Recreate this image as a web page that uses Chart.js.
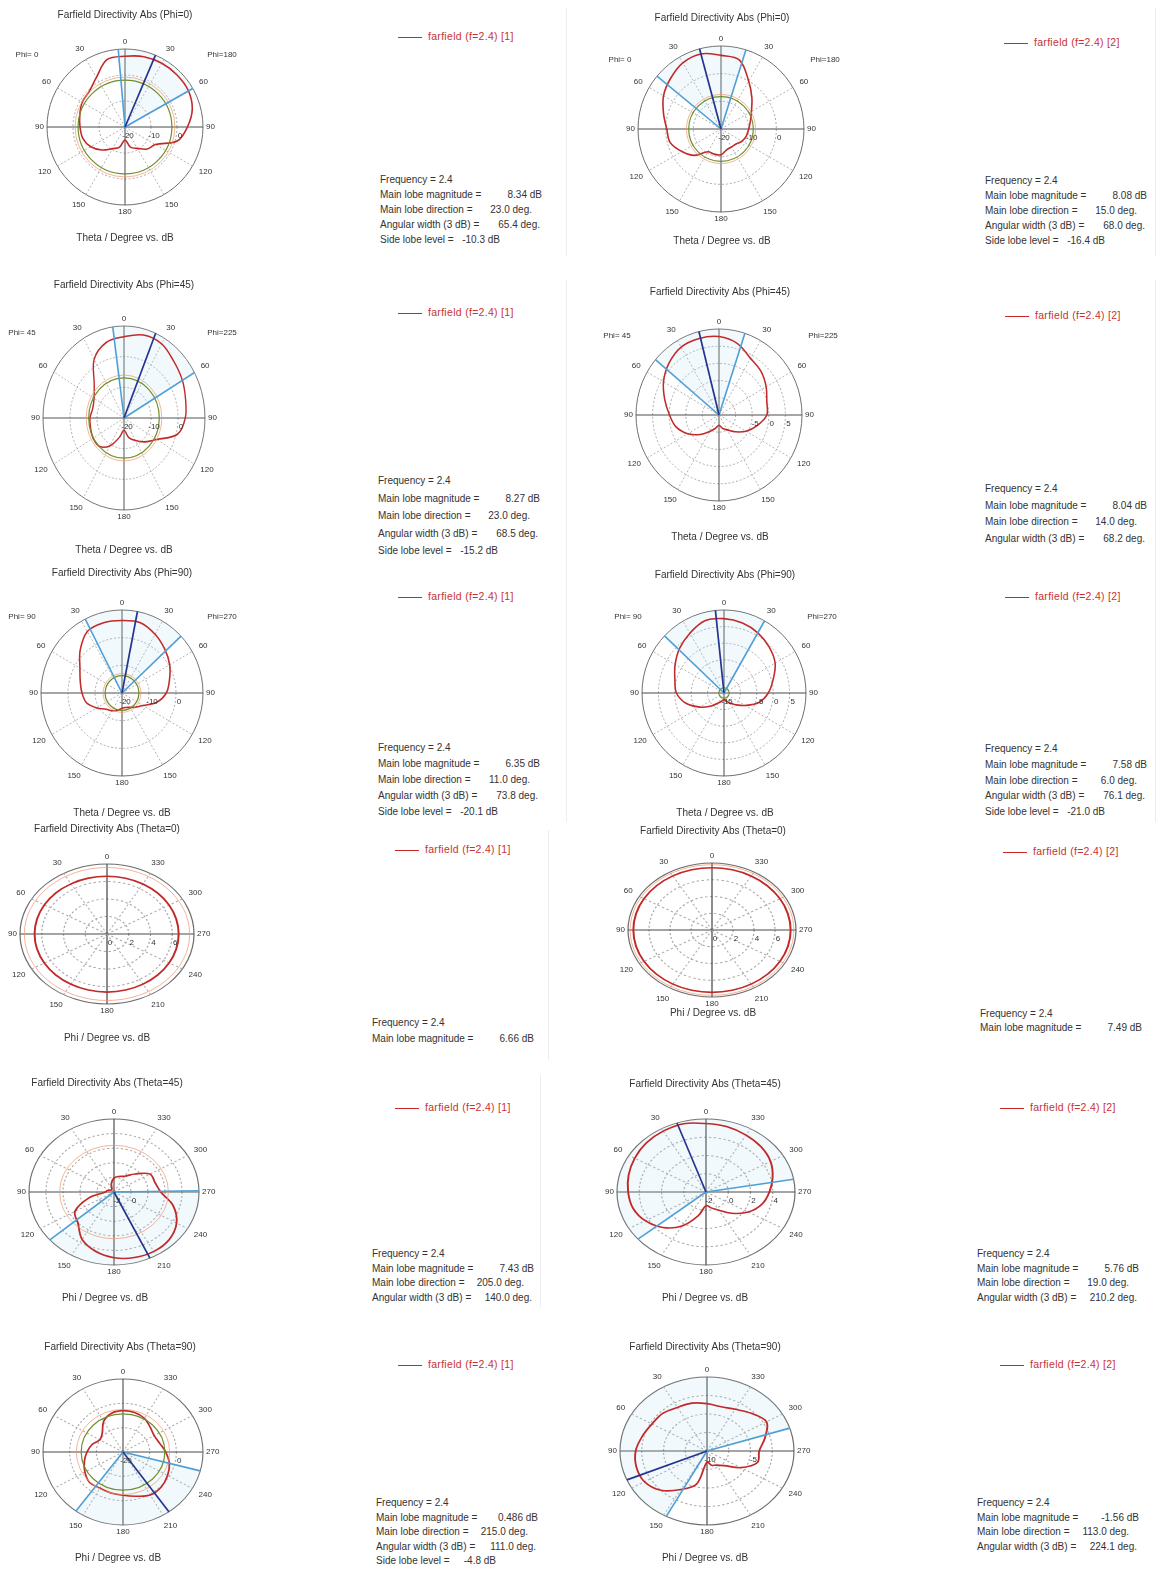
<!DOCTYPE html>
<html>
<head>
<meta charset="utf-8">
<script src="https://cdn.jsdelivr.net/npm/chart.js@4.4.1/dist/chart.umd.min.js"></script>
<style>
  html, body { margin: 0; padding: 0; background: #fff; }
  body { width: 1159px; height: 1572px; position: relative; overflow: hidden;
         font-family: "Liberation Sans", Arial, sans-serif; }
  canvas.plot { position: absolute; }
  .legend { position: absolute; font-size: 10.5px; letter-spacing: 0.3px; color: #c83232; white-space: nowrap; line-height: 12px; }
  .legend i { display: inline-block; width: 24px; border-top: 1.4px solid #c62828; vertical-align: middle; margin-right: 6px; }
  .info { position: absolute; font-size: 10px; color: #333; white-space: pre; }
  .info span { position: absolute; top: 0; white-space: pre; }
  .sep { position: absolute; width: 1px; background: #ededed; }
</style>
</head>
<body>
<script>
// ---- sampled directivity cuts, dB, 15 degree steps ----
const cutAngles = [0, 15, 30, 45, 60, 75, 90, 105, 120, 135, 150, 165,
                   180, 195, 210, 225, 240, 255, 270, 285, 300, 315, 330, 345];

// Phi cuts: theta read clockwise from the top (right half 0..180, left half back to 360)
const phi0Ant1   = [7.2, 8.0, 8.3, 8.3, 8.1, 6.8, 4.0, 0.8, -6.5, -8.0, -10.5, -12.0,
                    -15.0, -12.0, -10.4, -7.5, -4.8, -3.2, -2.7, -2.0, -1.0, -0.6, 2.0, 6.8];
const phi0Ant2   = [6.6, 5.8, 0.0, -4.2, -7.3, -9.0, -10.0, -10.5, -11.2, -12.3, -12.5, -12.2,
                    -10.7, -10.6, -10.5, -6.5, -3.7, -1.0, -0.4, 1.5, 4.0, 5.8, 7.6, 8.08];
const phi45Ant1  = [6.5, 8.0, 7.9, 6.1, 4.9, 3.6, 2.7, 0.5, -6.0, -9.0, -11.5, -13.5,
                    -16.0, -13.5, -9.5, -7.0, -6.8, -7.2, -7.4, -8.0, -7.2, -4.4, 2.1, 5.5];
const phi45Ant2  = [7.8, 6.5, 4.0, 2.9, 1.4, -0.1, -0.6, -3.1, -5.6, -8.1, -10.0, -11.0,
                    -12.0, -11.0, -9.5, -7.0, -4.1, -1.6, -0.1, 1.9, 4.3, 6.3, 7.8, 8.04];
const phi90Ant1  = [6.2, 6.3, 4.5, 2.4, 0.4, -1.8, -3.6, -6.8, -11.0, -12.8, -14.0, -14.6,
                    -14.5, -13.5, -12.6, -11.7, -9.2, -6.4, -5.2, -4.0, -2.0, 1.9, 5.7, 6.3];
const phi90Ant2  = [7.4, 6.8, 5.8, 4.5, 3.0, 0.5, -1.5, -4.0, -7.5, -10.0, -11.5, -12.5,
                    -13.0, -12.5, -11.5, -9.5, -6.5, -3.0, -0.5, 0.5, 2.2, 4.1, 5.8, 7.5];
// Theta cuts: indexed by phi (counter-clockwise on the plot)
const theta0Ant1  = [6.60, 6.61, 6.62, 6.64, 6.65, 6.66, 6.66, 6.66, 6.65, 6.64, 6.63, 6.63,
                     6.64, 6.63, 6.62, 6.61, 6.60, 6.59, 6.59, 6.59, 6.60, 6.60, 6.60, 6.60];
const theta0Ant2  = [7.44, 7.45, 7.46, 7.47, 7.48, 7.49, 7.49, 7.49, 7.48, 7.47, 7.46, 7.45,
                     7.45, 7.45, 7.46, 7.47, 7.48, 7.49, 7.49, 7.48, 7.47, 7.46, 7.45, 7.44];
const theta45Ant1 = [-0.1, -0.8, -1.5, -1.6, -1.5, -1.2, -1.0, 1.0, 3.3, 4.0, 5.5, 6.4,
                     7.0, 7.3, 7.4, 7.2, 6.5, 5.2, 3.5, 3.0, 2.9, 1.5, 0.5, 0.2];
const theta45Ant2 = [5.5, 5.75, 5.7, 5.6, 5.4, 5.2, 5.0, 4.8, 4.3, 3.5, 2.3, 0.7,
                     -0.5, -0.2, 0.3, 1.3, 2.4, 3.2, 3.7, 4.2, 4.7, 5.0, 5.2, 5.4];
const theta90Ant1 = [-3.0, -3.5, -5.5, -9.0, -10.0, -8.0, -6.5, -5.0, -3.5, -2.3, -2.8, -2.6,
                     -2.2, -1.2, 0.4, 0.3, -0.7, -2.0, -4.0, -5.8, -6.5, -5.6, -4.0, -3.2];
const theta90Ant2 = [-3.6, -3.3, -3.2, -2.8, -2.7, -2.3, -1.8, -1.6, -1.7, -2.5, -4.0, -5.4,
                     -8.5, -8.0, -7.8, -7.2, -5.5, -4.0, -4.0, -3.1, -2.1, -2.8, -3.5, -3.8];

const cutSeries = [phi0Ant1, phi0Ant2, phi45Ant1, phi45Ant2, phi90Ant1, phi90Ant2,
                   theta0Ant1, theta0Ant2, theta45Ant1, theta45Ant2, theta90Ant1, theta90Ant2];
const cutKind   = ['phi', 'phi', 'phi', 'phi', 'phi', 'phi',
                   'theta', 'theta', 'theta', 'theta', 'theta', 'theta'];
const plotTitles = ['Farfield Directivity Abs (Phi=0)', 'Farfield Directivity Abs (Phi=0)',
                    'Farfield Directivity Abs (Phi=45)', 'Farfield Directivity Abs (Phi=45)',
                    'Farfield Directivity Abs (Phi=90)', 'Farfield Directivity Abs (Phi=90)',
                    'Farfield Directivity Abs (Theta=0)', 'Farfield Directivity Abs (Theta=0)',
                    'Farfield Directivity Abs (Theta=45)', 'Farfield Directivity Abs (Theta=45)',
                    'Farfield Directivity Abs (Theta=90)', 'Farfield Directivity Abs (Theta=90)'];
const halfLabels = [['Phi= 0', 'Phi=180'], ['Phi= 0', 'Phi=180'],
                    ['Phi= 45', 'Phi=225'], ['Phi= 45', 'Phi=225'],
                    ['Phi= 90', 'Phi=270'], ['Phi= 90', 'Phi=270'],
                    null, null, null, null, null, null];
const antennaNo = [1, 2, 1, 2, 1, 2, 1, 2, 1, 2, 1, 2];
const frequency = 2.4;

// ---- farfield summary values ----
const mainMagnitude = [8.34, 8.08, 8.27, 8.04, 6.35, 7.58, 6.66, 7.49, 7.43, 5.76, 0.486, -1.56];
const mainDirection = [23.0, 15.0, 23.0, 14.0, 11.0, 6.0, null, null, 205.0, 19.0, 215.0, 113.0];
const mainHalf      = [1, -1, 1, -1, 1, -1, 0, 0, 0, 0, 0, 0];   // which half of a phi cut
const angularWidth  = [65.4, 68.0, 68.5, 68.2, 73.8, 76.1, null, null, 140.0, 210.2, 111.0, 224.1];
const widthStart    = [-5.0, -50.5, -8.0, -50.0, -27.0, -46.5, null, null, 131.0, -80.0, 144.0, -72.0];
const sideLobeLevel = [-10.3, -16.4, -15.2, null, -20.1, -21.0, null, null, null, null, -4.8, null];
// secondary reference ring (dB)
const refRingLevel  = [-0.8, -7.5, -6.0, null, -13.0, null, 7.6, 7.8, 4.4, null, -2.5, null];

// ---- dB axis of every plot ----
const axisMin  = [-20, -20, -20, -15, -20, -15, 0, 0, -2, -2, -20, -10];
const axisMax  = [10, 10, 10, 10, 10, 10, 8, 8, 8, 6, 10, 0];
const axisStep = [10, 10, 10, 5, 10, 5, 2, 2, 2, 2, 10, 2.5];
const axisTickLabels = [[-20, -10, 0], [-20, -10, 0], [-20, -10, 0], [-5, 0, 5],
                        [-20, -10, 0], [-15, -5, 0, 5], [0, 2, 4, 6], [0, 2, 4, 6],
                        [-2, 0], [-2, 0, 2, 4], [-20, 0], [-10, -5]];

// ---- page placement of each plot block ----
const layout = [
  {cx: 125, cy: 127, rx: 78, ry: 78, title: [125, 15], sub: [125, 238], sides: [[27, 55], [222, 55]], legend: [398, 36], info: [380, 180, 15]},
  {cx: 721, cy: 129, rx: 83, ry: 83, title: [722, 18], sub: [722, 241], sides: [[620, 60], [825, 60]], legend: [1004, 42], info: [985, 181, 15]},
  {cx: 124, cy: 418, rx: 81, ry: 92, title: [124, 285], sub: [124, 550], sides: [[22, 333], [222, 333]], legend: [398, 312], info: [378, 481, 17.5]},
  {cx: 719, cy: 415, rx: 83, ry: 86, title: [720, 292], sub: [720, 537], sides: [[617, 336], [823, 336]], legend: [1005, 315], info: [985, 489, 16.7]},
  {cx: 122, cy: 693, rx: 81, ry: 83, title: [122, 573], sub: [122, 813], sides: [[22, 617], [222, 617]], legend: [398, 596], info: [378, 748, 16]},
  {cx: 724, cy: 693, rx: 82, ry: 83, title: [725, 575], sub: [725, 813], sides: [[628, 617], [822, 617]], legend: [1005, 596], info: [985, 749, 15.8]},
  {cx: 107, cy: 934, rx: 87, ry: 70, title: [107, 829], sub: [107, 1038], legend: [395, 849], info: [372, 1023, 16]},
  {cx: 712, cy: 930, rx: 84, ry: 67, title: [713, 831], sub: [713, 1013], legend: [1003, 851], info: [980, 1014, 14]},
  {cx: 114, cy: 1192, rx: 85, ry: 73, title: [107, 1083], sub: [105, 1298], legend: [395, 1107], info: [372, 1254, 14.7]},
  {cx: 706, cy: 1192, rx: 89, ry: 73, title: [705, 1084], sub: [705, 1298], legend: [1000, 1107], info: [977, 1254, 14.7]},
  {cx: 123, cy: 1452, rx: 80, ry: 73, title: [120, 1347], sub: [118, 1558], legend: [398, 1364], info: [376, 1503, 14.5]},
  {cx: 707, cy: 1451, rx: 87, ry: 74, title: [705, 1347], sub: [705, 1558], legend: [1000, 1364], info: [977, 1503, 14.7]}
];

const CW = 260, CH = 290, OX = 130, OY = 140;
const FONT = '"Liberation Sans", Arial, sans-serif';
const rad = d => d * Math.PI / 180;

function mainScreenAngle(i) {
  if (mainDirection[i] === null) return null;
  return cutKind[i] === 'phi' ? mainHalf[i] * mainDirection[i] : -mainDirection[i];
}

function beamSector(i) {
  if (angularWidth[i] === null) return null;
  const a = widthStart[i], b = widthStart[i] + angularWidth[i];
  return cutKind[i] === 'phi' ? [a, b] : [-b, -a];
}

function angleText(i, a) {
  if (cutKind[i] === 'phi') return String(a <= 180 ? a : 360 - a);
  return String((360 - a) % 360);
}

function makeDecor(i) {
  const L = layout[i];
  const sx = L.rx / L.ry;
  return {
    id: 'polarDecor' + i,
    beforeDraw(chart) {
      const s = chart.scales.r, ctx = chart.ctx;
      ctx.save();
      ctx.translate(s.xCenter, s.yCenter);
      ctx.scale(sx, 1);
      ctx.translate(-s.xCenter, -s.yCenter);
    },
    beforeDatasetsDraw(chart) {
      const sec = beamSector(i);
      if (!sec) return;
      const s = chart.scales.r, ctx = chart.ctx;
      ctx.save();
      ctx.beginPath();
      ctx.moveTo(s.xCenter, s.yCenter);
      ctx.arc(s.xCenter, s.yCenter, s.drawingArea, rad(sec[0] - 90), rad(sec[1] - 90));
      ctx.closePath();
      ctx.fillStyle = 'rgba(175,215,238,0.16)';
      ctx.fill();
      ctx.restore();
    },
    afterDatasetsDraw(chart) {
      const s = chart.scales.r, ctx = chart.ctx;
      ctx.restore();
      const xc = s.xCenter, yc = s.yCenter;
      const ring = (v, color, w) => {
        const r = s.getDistanceFromCenterForValue(v);
        ctx.beginPath();
        ctx.ellipse(xc, yc, r * sx, r, 0, 0, Math.PI * 2);
        ctx.strokeStyle = color; ctx.lineWidth = w; ctx.stroke();
      };
      const spoke = (a, color, w) => {
        const p = s.getPointPosition(a / 15, s.drawingArea);
        ctx.beginPath();
        ctx.moveTo(xc, yc);
        ctx.lineTo(xc + (p.x - xc) * sx, p.y);
        ctx.strokeStyle = color; ctx.lineWidth = w; ctx.stroke();
      };
      ctx.save();
      if (refRingLevel[i] !== null) ring(refRingLevel[i], 'rgba(238,150,110,0.7)', 1);
      if (sideLobeLevel[i] !== null) ring(mainMagnitude[i] + sideLobeLevel[i], '#6f8f2a', 1.2);
      const sec = beamSector(i);
      if (sec) { spoke(sec[0], '#4f9fd6', 1.6); spoke(sec[1], '#4f9fd6', 1.6); }
      const m = mainScreenAngle(i);
      if (m !== null) spoke(m, '#24358f', 1.7);
      ctx.restore();
    },
    afterDraw(chart) {
      const s = chart.scales.r, ctx = chart.ctx;
      const xc = s.xCenter, yc = s.yCenter;
      const R = s.drawingArea;
      const ox = L.cx - OX, oy = L.cy - OY;
      ctx.save();
      ctx.fillStyle = '#333';
      ctx.textAlign = 'center';
      ctx.textBaseline = 'middle';
      ctx.font = '10px ' + FONT;
      ctx.fillText(plotTitles[i], L.title[0] - ox, L.title[1] - oy);
      ctx.fillText(cutKind[i] === 'phi' ? 'Theta / Degree vs. dB' : 'Phi / Degree vs. dB',
                   L.sub[0] - ox, L.sub[1] - oy);
      ctx.font = '8px ' + FONT;
      for (let k = 0; k < 12; k++) {
        const a = k * 30;
        const txt = angleText(i, a);
        const w = ctx.measureText(txt).width;
        const sn = Math.sin(rad(a)), cs = Math.cos(rad(a));
        const pad = 3 + 6 * Math.abs(Math.sin(rad(2 * a)));
        ctx.fillText(txt, xc + sn * R * sx + sn * (pad + w / 2), yc - cs * R - cs * (pad + 4));
      }
      if (halfLabels[i]) {
        ctx.fillText(halfLabels[i][0], L.sides[0][0] - ox, L.sides[0][1] - oy);
        ctx.fillText(halfLabels[i][1], L.sides[1][0] - ox, L.sides[1][1] - oy);
      }
      axisTickLabels[i].forEach(v => {
        const r = s.getDistanceFromCenterForValue(v);
        ctx.fillText(String(v), xc + r * sx + 3, yc + 9);
      });
      ctx.restore();
    }
  };
}

layout.forEach((L, i) => {
  const cv = document.createElement('canvas');
  cv.className = 'plot';
  cv.width = CW; cv.height = CH;
  cv.style.left = (L.cx - OX) + 'px';
  cv.style.top = (L.cy - OY) + 'px';
  document.body.appendChild(cv);

  const series = cutSeries[i];
  const values = cutKind[i] === 'phi'
    ? series.slice()
    : cutAngles.map((a, k) => series[(cutAngles.length - k) % cutAngles.length]);
  const maxV = axisMax[i];

  new Chart(cv, {
    type: 'radar',
    data: {
      labels: cutAngles.map(String),
      datasets: [{
        label: 'farfield (f=' + frequency + ') [' + antennaNo[i] + ']',
        data: values,
        borderColor: '#c22a2a',
        borderWidth: 1.6,
        pointRadius: 0,
        fill: false,
        tension: 0.35,
        clip: false
      }]
    },
    options: {
      responsive: false,
      animation: false,
      events: [],
      layout: { padding: { left: OX - L.ry, right: CW - OX - L.ry, top: OY - L.ry, bottom: CH - OY - L.ry } },
      plugins: { legend: { display: false }, tooltip: { enabled: false }, title: { display: false } },
      scales: {
        r: {
          min: axisMin[i], max: maxV, beginAtZero: false, startAngle: 0,
          ticks: { display: false, stepSize: axisStep[i] },
          pointLabels: { display: false },
          grid: {
            circular: true,
            lineWidth: 1,
            color: c => (c.tick && c.tick.value >= maxV - 1e-9) ? '#6e6e6e' : '#a9a9a9'
          },
          border: { dash: c => (c.tick && c.tick.value >= maxV - 1e-9) ? [] : [2, 2] },
          angleLines: {
            color: c => c.index % 6 === 0 ? '#4a4a4a' : '#b3b3b3',
            lineWidth: c => c.index % 2 === 0 ? 1 : 0,
            borderDash: c => c.index % 6 === 0 ? [] : [2, 2]
          }
        }
      }
    },
    plugins: [makeDecor(i)]
  });

  // legend entry
  const lg = document.createElement('div');
  lg.className = 'legend';
  lg.style.left = L.legend[0] + 'px';
  lg.style.top = (L.legend[1] - 6) + 'px';
  lg.innerHTML = '<i></i>farfield (f=' + frequency + ') [' + antennaNo[i] + ']';
  document.body.appendChild(lg);

  // summary block
  const rows = [['Frequency = ' + frequency, null, 0]];
  rows.push(['Main lobe magnitude =', mainMagnitude[i] + ' dB', 162]);
  if (mainDirection[i] !== null) rows.push(['Main lobe direction =', mainDirection[i].toFixed(1) + ' deg.', 152]);
  if (angularWidth[i] !== null) rows.push(['Angular width (3 dB) =', angularWidth[i].toFixed(1) + ' deg.', 160]);
  if (sideLobeLevel[i] !== null) rows.push(['Side lobe level =', sideLobeLevel[i].toFixed(1) + ' dB', 120]);
  rows.forEach((row, k) => {
    const d = document.createElement('div');
    d.className = 'info';
    d.style.left = L.info[0] + 'px';
    d.style.top = (L.info[1] + k * L.info[2] - 6) + 'px';
    d.style.width = '180px';
    d.style.height = '12px';
    let html = '<span style="left:0">' + row[0] + '</span>';
    if (row[1]) html += '<span style="right:' + (180 - row[2]) + 'px">' + row[1] + '</span>';
    d.innerHTML = html;
    document.body.appendChild(d);
  });
});

// faint panel borders
[[566, 8, 248], [566, 280, 280], [566, 560, 262], [548, 830, 230], [540, 1075, 232],
 [1155, 8, 248], [1155, 280, 280], [1155, 560, 262]].forEach(([x, y, h]) => {
  const d = document.createElement('div');
  d.className = 'sep';
  d.style.left = x + 'px'; d.style.top = y + 'px'; d.style.height = h + 'px';
  document.body.appendChild(d);
});
</script>
</body>
</html>
